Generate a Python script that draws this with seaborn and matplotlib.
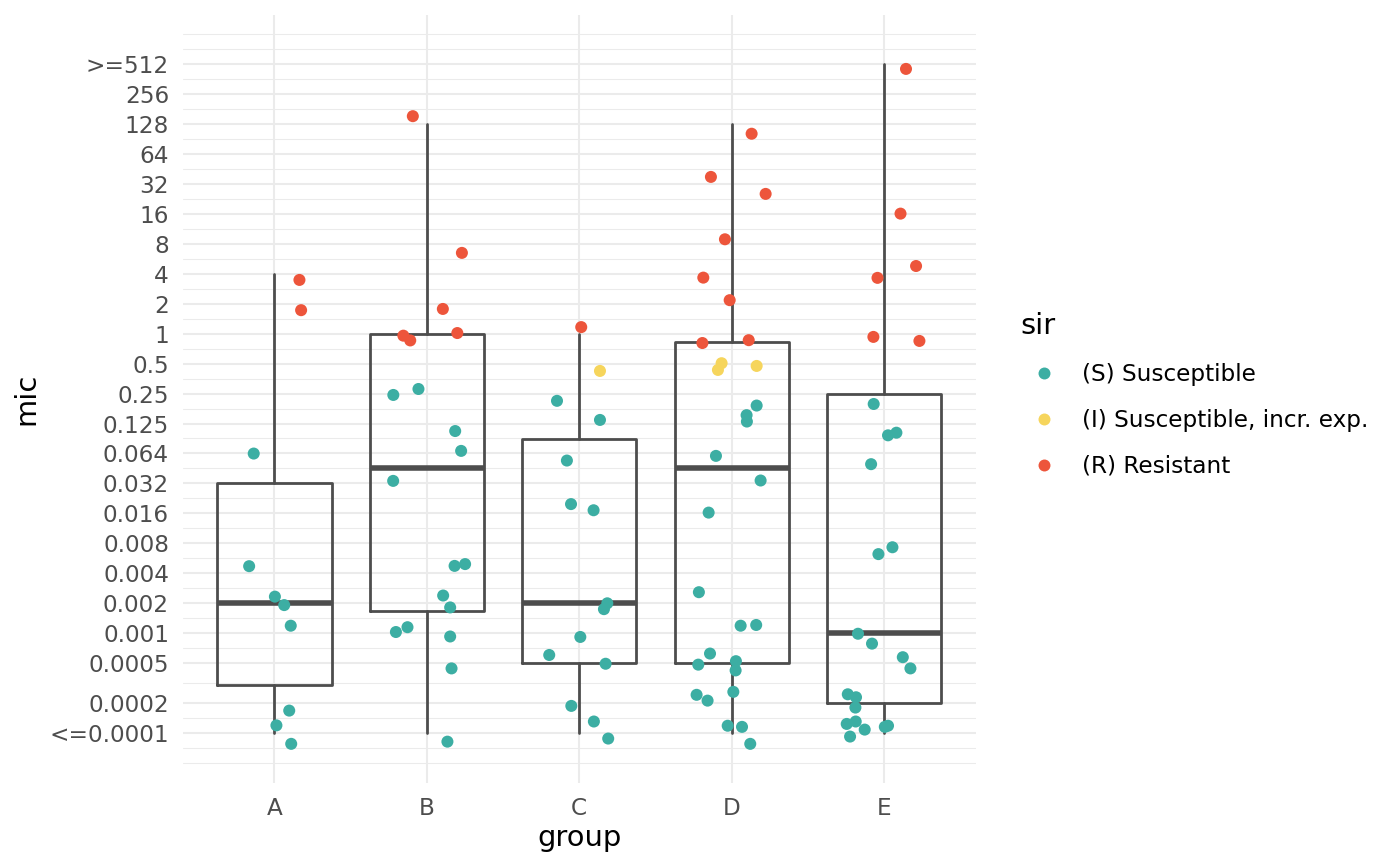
import numpy as np
import pandas as pd
import matplotlib
matplotlib.use("Agg")
import matplotlib.pyplot as plt
from matplotlib.lines import Line2D
from matplotlib.ticker import FixedLocator, NullFormatter
import seaborn as sns

sns.set_theme(style="white")
plt.rcParams['font.family'] = ['DejaVu Sans']

groups = ["A", "B", "C", "D", "E"]
sir_codes = ["S", "I", "R"]
sir_levels = ["(S) Susceptible", "(I) Susceptible, incr. exp.", "(R) Resistant"]
sir_colors = ["#3CAEA3", "#F6D55C", "#ED553B"]

# box statistics per group
box_whislo = [0.0001, 0.0001, 0.0001, 0.0001, 0.0001]
box_q1 = [0.0003, 0.00167, 0.0005, 0.0005, 0.0002]
box_med = [0.002, 0.045, 0.002, 0.045, 0.001]
box_q3 = [0.032, 1, 0.088, 0.83, 0.25]
box_whishi = [4, 128, 1, 128, 512]

# jittered points (horizontal offset in group units, mic value, sir code)
jit_A = [0.164, 0.175, -0.136, -0.166, 0.003, 0.064, 0.107, 0.097, 0.013, 0.110]
mic_A = [3.48, 1.73, 0.063, 0.00467, 0.00231, 0.00190, 0.00118, 0.000166, 0.000118, 0.000077]
sir_A = "RRSSSSSSSS"

jit_B = [-0.092, 0.230, 0.105, -0.154, -0.109, 0.200, -0.055, -0.220, 0.186, 0.225,
         -0.221, 0.182, 0.251, 0.107, 0.153, -0.203, -0.127, 0.153, 0.162, 0.135]
mic_B = [153, 6.5, 1.78, 0.96, 0.86, 1.02, 0.28, 0.244, 0.106, 0.067,
         0.0335, 0.0047, 0.0049, 0.00237, 0.00180, 0.00102, 0.00114, 0.00092, 0.00044, 0.000081]
sir_B = "RRRRRRSSSSSSSSSSSSSS"

jit_C = [0.013, 0.136, -0.146, 0.136, -0.081, -0.054, 0.094, 0.184, 0.162, 0.007,
         -0.197, 0.173, -0.052, 0.096, 0.190]
mic_C = [1.17, 0.425, 0.213, 0.137, 0.0536, 0.0196, 0.0170, 0.00198, 0.00173, 0.00091,
         0.00060, 0.00049, 0.000185, 0.000129, 0.000087]
sir_C = "RISSSSSSSSSSSSS"

jit_D = [0.131, -0.136, 0.223, -0.044, -0.186, -0.013, -0.192, 0.112, -0.066, -0.090,
         0.164, 0.164, 0.098, 0.100, -0.103, 0.190, -0.151, -0.215, 0.059, 0.161,
         -0.142, -0.219, 0.028, 0.026, -0.230, -0.158, 0.011, -0.026, 0.068, 0.122]
mic_D = [102, 37.6, 25.4, 8.9, 3.67, 2.18, 0.81, 0.865, 0.508, 0.435,
         0.477, 0.191, 0.153, 0.132, 0.0597, 0.0338, 0.0161, 0.00256, 0.00118, 0.00120,
         0.00062, 0.00048, 0.00052, 0.00042, 0.000239, 0.000209, 0.000256, 0.000117, 0.000114, 0.000077]
sir_D = "RRRRRRRRIIISSSSSSSSSSSSSSSSSSS"

jit_E = [0.144, 0.108, 0.210, -0.043, -0.070, 0.232, -0.068, 0.081, 0.026, -0.085,
         0.055, -0.037, -0.171, -0.079, 0.123, 0.173, -0.238, -0.184, -0.188, -0.245,
         -0.186, -0.127, -0.223, 0.005, 0.026]
mic_E = [456, 16.1, 4.8, 3.65, 0.933, 0.85, 0.198, 0.102, 0.096, 0.0493,
         0.00723, 0.00617, 0.00098, 0.00078, 0.00057, 0.00044, 0.000242, 0.000226, 0.000178, 0.000122,
         0.000129, 0.000107, 0.0000911, 0.000114, 0.000117]
sir_E = "RRRRRRSSSSSSSSSSSSSSSSSSS"

# y axis breaks
mic_breaks = [0.0001, 0.0002, 0.0005, 0.001, 0.002, 0.004, 0.008, 0.016, 0.032, 0.064,
              0.125, 0.25, 0.5, 1, 2, 4, 8, 16, 32, 64, 128, 256, 512]
mic_labels = ["<=0.0001", "0.0002", "0.0005", "0.001", "0.002", "0.004", "0.008", "0.016",
              "0.032", "0.064", "0.125", "0.25", "0.5", "1", "2", "4", "8", "16", "32",
              "64", "128", "256", ">=512"]

frames = []
for i, (jit, mic, sir) in enumerate([(jit_A, mic_A, sir_A), (jit_B, mic_B, sir_B),
                                     (jit_C, mic_C, sir_C), (jit_D, mic_D, sir_D),
                                     (jit_E, mic_E, sir_E)]):
    frames.append(pd.DataFrame({
        "x": i + np.array(jit),
        "mic": mic,
        "sir": [sir_levels[sir_codes.index(c)] for c in sir],
    }))
df = pd.concat(frames, ignore_index=True)

fig = plt.figure(figsize=(14, 8.66), dpi=100)
ax = fig.add_axes([183 / 1400, 1 - 783 / 866, 792.5 / 1400, 768 / 866])
ax.set_yscale("log", base=2)

stats = [dict(med=box_med[i], q1=box_q1[i], q3=box_q3[i],
              whislo=box_whislo[i], whishi=box_whishi[i], fliers=[])
         for i in range(len(groups))]
line_kw = dict(color="#4D4D4D", linewidth=2.0)
ax.bxp(stats, positions=range(len(groups)), widths=0.75, showcaps=False,
       showfliers=False, boxprops=line_kw, whiskerprops=line_kw,
       medianprops=dict(color="#4D4D4D", linewidth=4.0, solid_capstyle="butt"))

sns.scatterplot(data=df, x="x", y="mic", hue="sir", hue_order=sir_levels,
                palette=sir_colors, s=75, linewidth=0, ax=ax, legend=False, zorder=3)

# grid: majors at breaks, minors halfway between them (log2 space)
lb = np.log2(mic_breaks)
mids = list((lb[:-1] + lb[1:]) / 2) + [lb[0] - 0.5, lb[0] - 1, lb[-1] + 0.5, lb[-1] + 1]
ax.set_yticks(mic_breaks, mic_labels)
ax.yaxis.set_minor_locator(FixedLocator(2.0 ** np.array(mids)))
ax.yaxis.set_minor_formatter(NullFormatter())
ax.set_xticks(range(len(groups)), groups)
ax.set_axisbelow(True)
ax.grid(which="major", color="#EBEBEB", lw=1.5)
ax.grid(which="minor", axis="y", color="#EBEBEB", lw=0.75)

ax.set_xlim(-0.6, 4.6)
ax.set_ylim(2.0 ** -14.97, 2.0 ** 10.63)
for s in ax.spines.values():
    s.set_visible(False)
ax.tick_params(axis="both", which="both", length=0, labelsize=16.7,
               labelcolor="#4D4D4D", pad=10)
ax.set_xlabel("group", fontsize=20.9, color="black")
ax.set_ylabel("mic", fontsize=20.9, color="black")
ax.xaxis.set_label_coords(0.5, -0.054)
ax.yaxis.set_label_coords(-0.18, 0.5)

handles = [Line2D([], [], marker="o", ls="", markersize=8.6, markeredgewidth=0, color=c)
           for c in sir_colors]
leg = fig.legend(handles, sir_levels, title="sir", loc="upper left",
                 bbox_to_anchor=(1020 / 1400, 1 - 312 / 866), frameon=False,
                 fontsize=16.7, title_fontsize=20.9, handlelength=2.07, handletextpad=0.585,
                 labelspacing=0.99, borderpad=0, borderaxespad=0, alignment="left")
for t in leg.get_texts():
    t.set_color("black")
leg.get_title().set_color("black")

fig.savefig("out.png", dpi=100)
